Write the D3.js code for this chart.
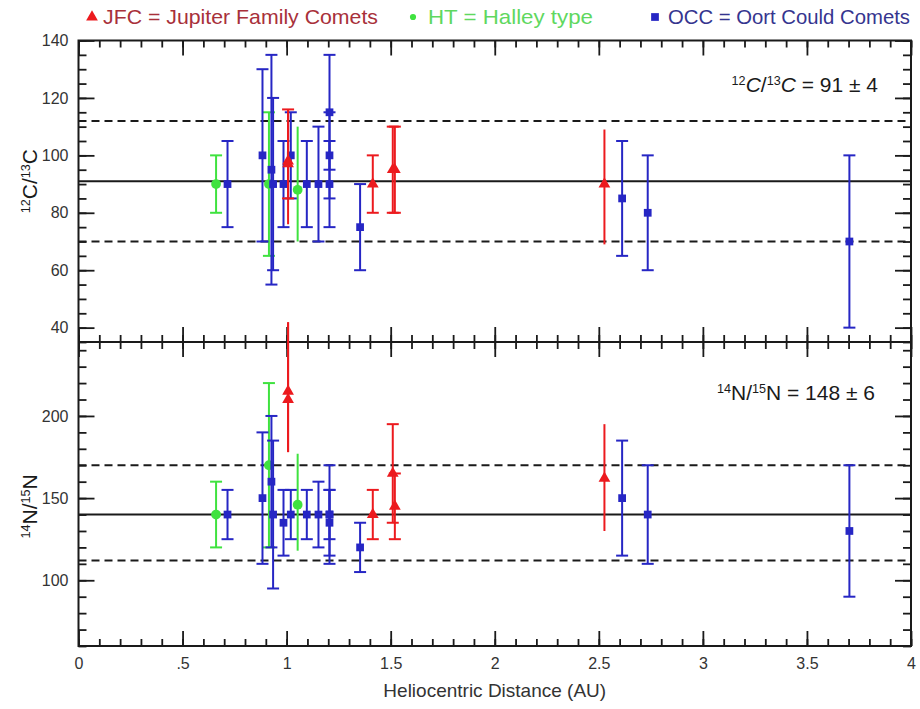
<!DOCTYPE html>
<html>
<head>
<meta charset="utf-8">
<script src="https://cdn.jsdelivr.net/npm/d3@7"></script>
<style>
  body { margin: 0; background: #fff; }
  svg { display: block; font-family: "Liberation Sans", Arial, sans-serif; }
</style>
</head>
<body>
<div id="chart"></div>
<script>
// each row: [heliocentric distance (AU), ratio, lower end, upper end, capped]
var jfcC = [[1.007, 98, 85, 116, 1], [1.007, 97, 76, 116, 0], [1.414, 90, 80, 100, 1],
            [1.51, 95, 80, 110, 1], [1.52, 95, 80, 110, 1], [2.527, 90, 69, 109, 0]];
var jfcN = [[1.007, 215, 178, 257, 0], [1.007, 210, 178, 257, 0], [1.414, 140, 125, 155, 1],
            [1.51, 165, 135, 195, 1], [1.52, 145, 125, 165, 1], [2.527, 162, 130, 195, 0]];
var htC = [[0.661, 90, 80, 100, 1], [0.915, 90, 65, 115, 1], [1.053, 88, 70, 110, 0]];
var htN = [[0.661, 140, 120, 160, 1], [0.915, 170, 120, 220, 1], [1.053, 146, 118, 177, 0]];
var occC = [[0.716, 90, 75, 105, 1], [0.884, 100, 70, 130, 1], [0.927, 95, 55, 135, 1],
            [0.935, 90, 60, 120, 1], [0.985, 90, 75, 105, 1], [1.02, 100, 85, 115, 1],
            [1.097, 90, 75, 105, 1], [1.153, 90, 70, 110, 1], [1.206, 115, 95, 135, 1],
            [1.206, 100, 85, 115, 1], [1.206, 90, 75, 105, 1], [1.353, 75, 60, 90, 1],
            [2.612, 85, 65, 105, 1], [2.735, 80, 60, 100, 1], [3.704, 70, 40, 100, 1]];
var occN = [[0.716, 140, 125, 155, 1], [0.884, 150, 110, 190, 1], [0.927, 160, 120, 200, 1],
            [0.935, 140, 95, 185, 1], [0.985, 135, 115, 155, 1], [1.02, 140, 125, 155, 1],
            [1.097, 140, 125, 155, 1], [1.153, 140, 120, 160, 1], [1.206, 140, 110, 170, 1],
            [1.206, 140, 125, 155, 1], [1.206, 135, 115, 155, 1], [1.353, 120, 105, 135, 1],
            [2.612, 150, 115, 185, 1], [2.735, 140, 110, 170, 1], [3.704, 130, 90, 170, 1]];

// mean and dashed band for each ratio
var cMean = 91, cBand = [70, 112];
var nMean = 140, nBand = [112, 170];

var xTickVals = [0, 0.5, 1, 1.5, 2, 2.5, 3, 3.5, 4];
var xTickLabels = ["0", ".5", "1", "1.5", "2", "2.5", "3", "3.5", "4"];
var cTickVals = [40, 60, 80, 100, 120, 140];
var nTickVals = [100, 150, 200];

var legendItems = ["JFC = Jupiter Family Comets", "HT = Halley type", "OCC = Oort Could Comets"];

var W = 920, H = 709;
var svg = d3.select("#chart").append("svg").attr("width", W).attr("height", H);

var x = d3.scaleLinear().domain([0, 4]).range([78.5, 911]);
var yC = d3.scaleLinear().domain([35, 140]).range([342, 40.5]);
var yN = d3.scaleLinear().domain([60, 245]).range([646, 342]);

var ink = "#1a1a1a";
var red = "#ec1a1e", green = "#3fe23f", blue = "#2626c4";

function cleanAxis(g) {
  g.select(".domain").remove();
  g.selectAll(".tick line").attr("stroke", ink).attr("stroke-width", 1.8);
  g.selectAll(".tick text").attr("fill", "#333").style("font-size", "16px")
    .style("font-family", "'Liberation Sans', Arial, sans-serif");
}

// x ticks along a horizontal edge, pointing into the panel
function xEdge(yPos, down) {
  var ax = down ? d3.axisBottom : d3.axisTop;
  svg.append("g").attr("transform", "translate(0," + yPos + ")")
    .call(ax(x).tickValues(x.ticks(40)).tickSize(7).tickFormat(""))
    .call(cleanAxis);
  svg.append("g").attr("transform", "translate(0," + yPos + ")")
    .call(ax(x).tickValues(xTickVals).tickSize(15).tickFormat(""))
    .call(cleanAxis);
}
xEdge(40.5, true);
xEdge(342, false);
xEdge(342, true);
xEdge(646, false);

// x labels under the bottom panel
svg.append("g").attr("transform", "translate(0,646)")
  .call(d3.axisBottom(x).tickValues(xTickVals).tickSize(0).tickPadding(12)
    .tickFormat(function (d, i) { return xTickLabels[i]; }))
  .call(cleanAxis);

function yEdges(y, majors, minorStep) {
  var minors = d3.range(y.domain()[0], y.domain()[1] + 0.01, minorStep);
  svg.append("g").attr("transform", "translate(" + x.range()[0] + ",0)")
    .call(d3.axisLeft(y).tickValues(minors).tickSize(-8).tickFormat(""))
    .call(cleanAxis);
  svg.append("g").attr("transform", "translate(" + x.range()[0] + ",0)")
    .call(d3.axisLeft(y).tickValues(majors).tickSize(-16).tickPadding(10))
    .call(cleanAxis);
  svg.append("g").attr("transform", "translate(" + x.range()[1] + ",0)")
    .call(d3.axisRight(y).tickValues(minors).tickSize(-8).tickFormat(""))
    .call(cleanAxis);
  svg.append("g").attr("transform", "translate(" + x.range()[1] + ",0)")
    .call(d3.axisRight(y).tickValues(majors).tickSize(-16).tickFormat(""))
    .call(cleanAxis);
}
yEdges(yC, cTickVals, 5);
yEdges(yN, nTickVals, 10);

// reference lines
function refLines(y, mean, band) {
  svg.append("line").attr("x1", x(0)).attr("x2", x(4)).attr("y1", y(mean)).attr("y2", y(mean))
    .attr("stroke", ink).attr("stroke-width", 2);
  band.forEach(function (v) {
    svg.append("line").attr("x1", x(0)).attr("x2", x(4)).attr("y1", y(v)).attr("y2", y(v))
      .attr("stroke", ink).attr("stroke-width", 2).attr("stroke-dasharray", "8,5");
  });
}
refLines(yC, cMean, cBand);
refLines(yN, nMean, nBand);

// frame
svg.append("rect").attr("x", x(0)).attr("y", yC(140)).attr("width", x(4) - x(0))
  .attr("height", yN(60) - yC(140)).attr("fill", "none").attr("stroke", ink).attr("stroke-width", 2);
svg.append("line").attr("x1", x(0)).attr("x2", x(4)).attr("y1", yN(245)).attr("y2", yN(245))
  .attr("stroke", ink).attr("stroke-width", 2);

var triangle = d3.symbol().type(d3.symbolTriangle).size(60);
var square = d3.symbol().type(d3.symbolSquare).size(60);
var circle = d3.symbol().type(d3.symbolCircle).size(75);

function series(rows, y, color, shape) {
  var g = svg.append("g");
  var pts = g.selectAll("g").data(rows).enter().append("g");
  pts.append("line")
    .attr("x1", function (d) { return x(d[0]); }).attr("x2", function (d) { return x(d[0]); })
    .attr("y1", function (d) { return y(d[2]); }).attr("y2", function (d) { return y(d[3]); })
    .attr("stroke", color).attr("stroke-width", 2);
  pts.filter(function (d) { return d[4]; }).each(function (d) {
    var s = d3.select(this);
    [d[2], d[3]].forEach(function (v) {
      s.append("line").attr("x1", x(d[0]) - 6).attr("x2", x(d[0]) + 6)
        .attr("y1", y(v)).attr("y2", y(v)).attr("stroke", color).attr("stroke-width", 2);
    });
  });
  pts.append("path").attr("d", shape)
    .attr("transform", function (d) { return "translate(" + x(d[0]) + "," + y(d[1]) + ")"; })
    .attr("fill", color);
}
series(htC, yC, green, circle);
series(htN, yN, green, circle);
series(occC, yC, blue, square);
series(occN, yN, blue, square);
series(jfcC, yC, red, triangle);
series(jfcN, yN, red, triangle);

// axis titles
function ratioLabel(sel, a, el, b, italic) {
  sel.append("tspan").text(a).attr("baseline-shift", "super").style("font-size", "0.6em");
  sel.append("tspan").text(el).style("font-style", italic ? "italic" : "normal");
  sel.append("tspan").text("/");
  sel.append("tspan").text(b).attr("baseline-shift", "super").style("font-size", "0.6em");
  sel.append("tspan").text(el).style("font-style", italic ? "italic" : "normal");
}
var tC = svg.append("text").attr("transform", "translate(37," + yC(91) + ") rotate(-90)")
  .attr("text-anchor", "middle").style("font-size", "21px").attr("fill", ink);
ratioLabel(tC, "12", "C", "13", false);
var tN = svg.append("text").attr("transform", "translate(37," + yN(145) + ") rotate(-90)")
  .attr("text-anchor", "middle").style("font-size", "21px").attr("fill", ink);
ratioLabel(tN, "14", "N", "15", false);

svg.append("text").attr("x", (x(0) + x(4)) / 2).attr("y", 697).attr("text-anchor", "middle")
  .style("font-size", "19px").attr("fill", "#333").text("Heliocentric Distance (AU)");

// annotations
var aC = svg.append("text").attr("x", 878).attr("y", 92).attr("text-anchor", "end")
  .style("font-size", "21px").attr("fill", ink);
ratioLabel(aC, "12", "C", "13", true);
aC.append("tspan").text("  = 91 \u00b1 4");
var aN = svg.append("text").attr("x", 875).attr("y", 400).attr("text-anchor", "end")
  .style("font-size", "21px").attr("fill", ink);
ratioLabel(aN, "14", "N", "15", false);
aN.append("tspan").text(" = 148 \u00b1 6");

// legend
var legend = [
  { mark: triangle, color: red, text: "#a8303a", mx: 92, tx: 103, w: 275 },
  { mark: circle, color: green, text: "#5fd85f", mx: 413, tx: 428, w: 165 },
  { mark: square, color: blue, text: "#35358f", mx: 655, tx: 668, w: 242 }
];
legend.forEach(function (l, i) {
  svg.append("path").attr("d", i === 1 ? d3.symbol().type(d3.symbolCircle).size(30)() : l.mark())
    .attr("transform", "translate(" + l.mx + ",17)").attr("fill", l.color);
  svg.append("text").attr("x", l.tx).attr("y", 24).style("font-size", "21px")
    .attr("fill", l.text).attr("textLength", l.w).attr("lengthAdjust", "spacingAndGlyphs")
    .text(legendItems[i]);
});
</script>
</body>
</html>
